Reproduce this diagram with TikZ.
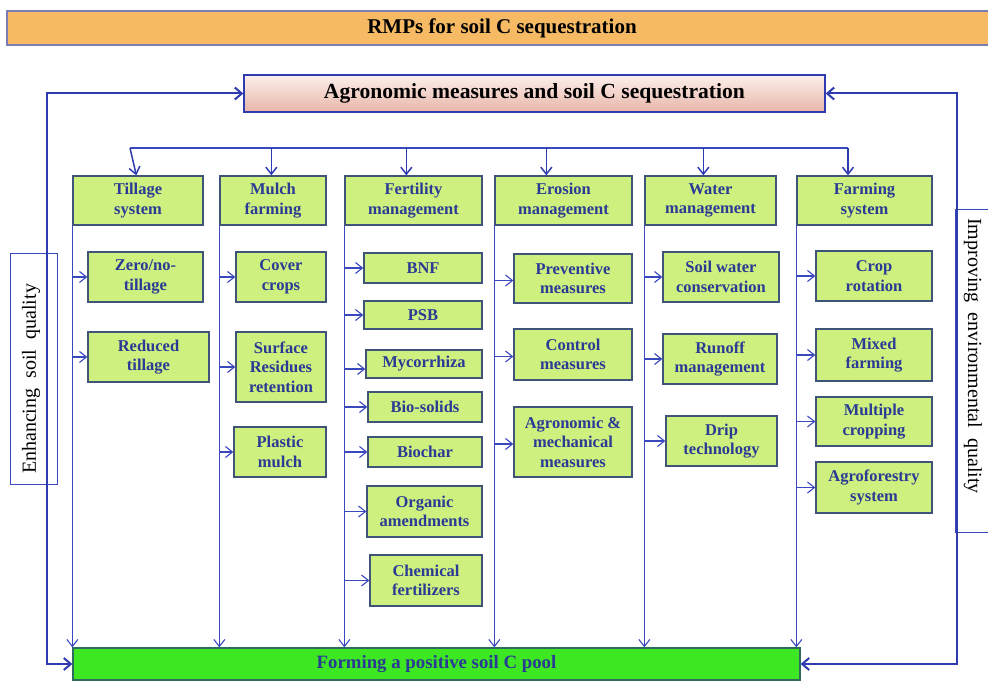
\documentclass[tikz,border=0pt]{standalone}
\usepackage{fontspec}
\setmainfont{Liberation Serif}
\usetikzlibrary{arrows.meta,calc}
\definecolor{lineblue}{HTML}{3A48BE}
\definecolor{loopblue}{HTML}{2E3CB0}
\definecolor{txtblue}{HTML}{2B3A94}
\definecolor{lime}{HTML}{CDF07E}
\definecolor{limeborder}{HTML}{3F5478}
\definecolor{bannerfill}{HTML}{F5BA63}
\definecolor{bannerdraw}{HTML}{7C7CB8}
\definecolor{formfill}{HTML}{3DE823}
\definecolor{formdraw}{HTML}{2E6A5E}
\definecolor{agrotop}{HTML}{FCEFEB}
\definecolor{agrobot}{HTML}{E8B6A8}
\tikzset{
  gbox/.style={draw=limeborder, fill=lime, line width=1.3pt, inner sep=0pt,
    text=txtblue, align=center, font=\fontsize{16.5}{19.5}\selectfont\bfseries},
  conn/.style={draw=lineblue, line width=1.1pt, -{Straight Barb[length=7pt,width=11pt]}},
  dist/.style={draw=lineblue, line width=1.5pt},
  distarr/.style={draw=loopblue, line width=1.5pt, -{Straight Barb[length=7pt,width=11pt]}},
  loop/.style={draw=loopblue, line width=2pt, {Straight Barb[length=7pt,width=12pt]}-{Straight Barb[length=7pt,width=12pt]}}
}
\newcommand{\mybox}[6]{%
  \node[gbox, minimum width={(#4-#2)*1pt}, minimum height={(#5-#3)*1pt}] (#1)
    at ({(#2+#4)/2},{(#3+#5)/2}) {#6};}
\begin{document}
\begin{tikzpicture}[x=1pt,y=-1pt]
\useasboundingbox (0,0) rectangle (988,682);
% banner
\node[draw=bannerdraw, fill=bannerfill, line width=1.2pt, minimum width=990pt, minimum height=34pt, inner sep=0pt,
  font=\fontsize{21}{24}\selectfont\bfseries] (banner) at (502,28) {RMPs for soil C sequestration};
% agronomic
\node[draw=loopblue, top color=agrotop, bottom color=agrobot, line width=1.3pt, minimum width=581pt, minimum height=37pt,
  inner sep=0pt, font=\fontsize{21.6}{24}\selectfont\bfseries] (agro) at (534.5,93.5) {Agronomic measures and soil C sequestration};
% forming
\node[draw=formdraw, fill=formfill, line width=1.3pt, minimum width=727pt, minimum height=32pt, inner sep=0pt,
  text=txtblue, font=\fontsize{18.8}{21}\selectfont\bfseries] (form) at (436.5,664) {Forming a positive soil C pool};
% side boxes
\node[draw=lineblue, line width=1pt, minimum width=47pt, minimum height=231pt, inner sep=0pt] (enhbox) at (33.5,368.5) {};
\node[rotate=90, font=\fontsize{20}{22}\selectfont, inner sep=0pt] (enh) at (31,379) {Enhancing \ soil \ quality};
\node[draw=lineblue, line width=1pt, minimum width=45pt, minimum height=323pt, inner sep=0pt] (impbox) at (977.5,370.5) {};
\node[rotate=-90, font=\fontsize{20}{22}\selectfont, inner sep=0pt] (imp) at (973,356) {Improving \ environmental \ quality};
% headers
\mybox{till}{73}{176}{203}{225}{Tillage\\system}
\mybox{mulch}{220}{176}{326}{225}{Mulch\\farming}
\mybox{fert}{345}{176}{482}{225}{Fertility\\management}
\mybox{eros}{495}{176}{632}{225}{Erosion\\management}
\mybox{water}{645}{176}{776}{225}{Water\\management}
\mybox{farm}{797}{176}{932}{225}{Farming\\system}
% tillage children
\mybox{t1}{88}{252}{203}{302}{Zero/no-\\tillage}
\mybox{t2}{88}{332}{209}{382}{Reduced\\tillage}
% mulch children
\mybox{m1}{236}{252}{326}{302}{Cover\\crops}
\mybox{m2}{236}{332}{326}{402}{Surface\\Residues\\retention}
\mybox{m3}{234}{427}{326}{477}{Plastic\\mulch}
% fertility children
\mybox{f1}{364}{253}{482}{283}{BNF}
\mybox{f2}{364}{301}{482}{329}{PSB}
\mybox{f3}{366}{350}{482}{378}{Mycorrhiza}
\mybox{f4}{368}{392}{482}{422}{Bio-solids}
\mybox{f5}{368}{437}{482}{467}{Biochar}
\mybox{f6}{367}{486}{482}{537}{Organic\\amendments}
\mybox{f7}{370}{555}{482}{606}{Chemical\\fertilizers}
% erosion children
\mybox{e1}{514}{254}{632}{303}{Preventive\\measures}
\mybox{e2}{514}{329}{632}{380}{Control\\measures}
\mybox{e3}{514}{407}{632}{477}{Agronomic \&\\mechanical\\measures}
% water children
\mybox{w1}{663}{252}{779}{302}{Soil water\\conservation}
\mybox{w2}{663}{334}{777}{384}{Runoff\\management}
\mybox{w3}{666}{416}{777}{466}{Drip\\technology}
% farming children
\mybox{s1}{816}{251}{932}{301}{Crop\\rotation}
\mybox{s2}{816}{329}{932}{381}{Mixed\\farming}
\mybox{s3}{816}{397}{932}{446}{Multiple\\cropping}
\mybox{s4}{816}{462}{932}{513}{Agroforestry\\system}
% distribution line
\coordinate (dl) at (130,148);
\coordinate (dr) at (848,148);
\draw[dist] (dl) -- (dr);
\draw[distarr] (dl) -- ([xshift=64pt]till.north west);
\draw[distarr] ([xshift=52pt]mulch.north west |- dl) -- ([xshift=52pt]mulch.north west);
\draw[distarr] ([xshift=62pt]fert.north west |- dl) -- ([xshift=62pt]fert.north west);
\draw[distarr] ([xshift=52pt]eros.north west |- dl) -- ([xshift=52pt]eros.north west);
\draw[distarr] ([xshift=59pt]water.north west |- dl) -- ([xshift=59pt]water.north west);
\draw[distarr] (dr) -- (farm.north -| dr);
% column lines to forming box
\foreach \h in {till,mulch,fert,eros,water,farm}{
  \draw[conn] (\h.south west) -- (\h.south west |- form.north);
}
% child arrows
\foreach \c in {t1,t2}{\draw[conn] (till.south west |- \c.west) -- (\c.west);}
\foreach \c in {m1,m2,m3}{\draw[conn] (mulch.south west |- \c.west) -- (\c.west);}
\foreach \c in {f1,f2,f4,f5,f6,f7}{\draw[conn] (fert.south west |- \c.west) -- (\c.west);}
\draw[conn] ([yshift=-5pt]fert.south west |- f3.west) -- ([yshift=-5pt]f3.west);
\foreach \c in {e1,e2,e3}{\draw[conn] ([yshift=-2pt]eros.south west |- \c.west) -- ([yshift=-2pt]\c.west);}
\foreach \c in {w1,w2,w3}{\draw[conn] (water.south west |- \c.west) -- (\c.west);}
\foreach \c in {s1,s2,s3,s4}{\draw[conn] (farm.south west |- \c.west) -- (\c.west);}
% feedback loops
\draw[loop] (agro.west) -- ++(-196,0) |- (form.west);
\draw[loop] (agro.east) -- ++(131,0) |- (form.east);
\end{tikzpicture}
\end{document}
